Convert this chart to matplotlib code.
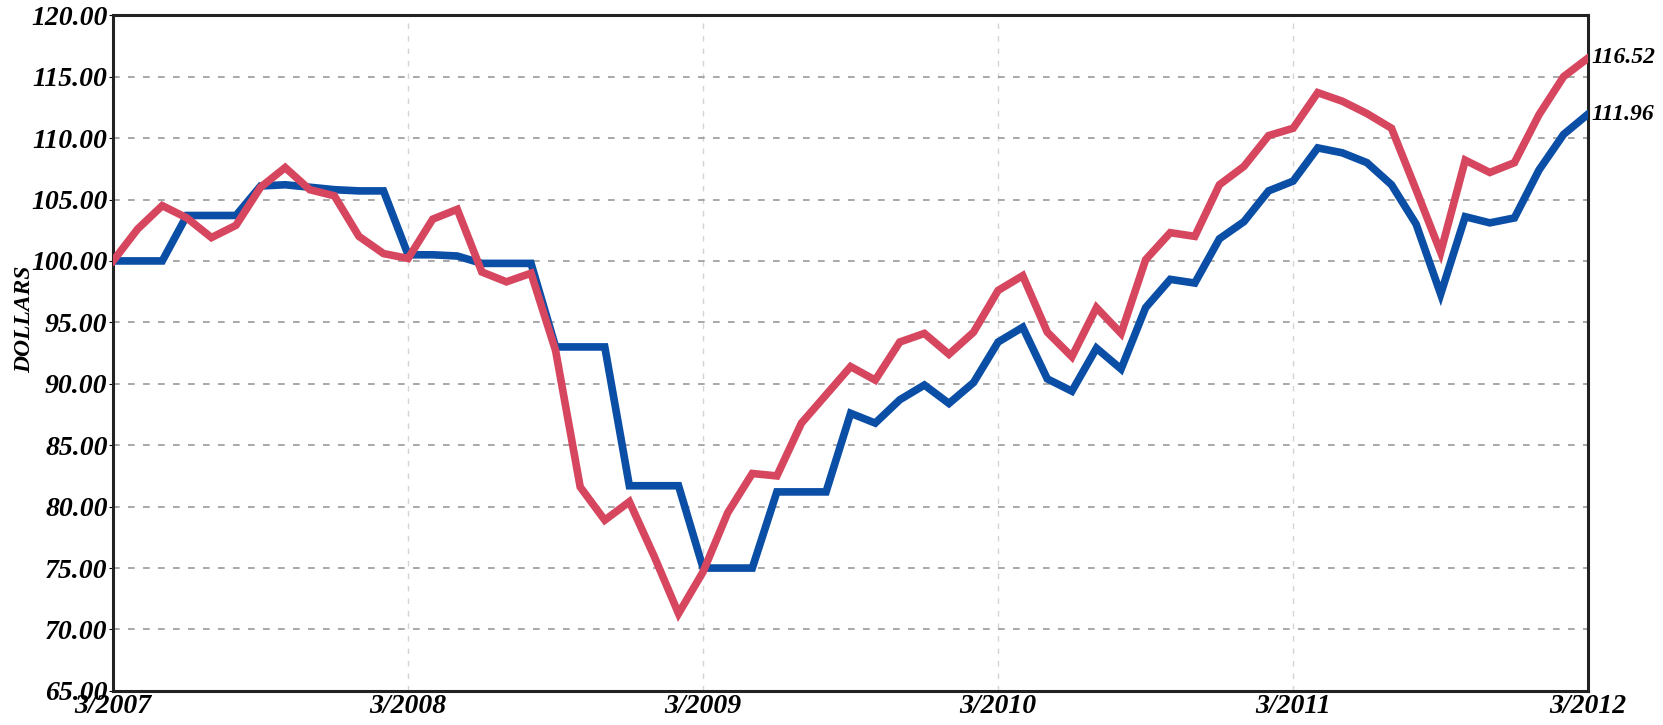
import numpy as np
import matplotlib
matplotlib.use("Agg")
import matplotlib.pyplot as plt

# monthly index, 3/2007 .. 3/2012
months = np.arange(61)
tick_pos = [0, 12, 24, 36, 48, 60]
tick_labels = ["3/2007", "3/2008", "3/2009", "3/2010", "3/2011", "3/2012"]

red_vals = [100.0, 102.6, 104.5, 103.5, 101.9, 102.9, 106.0, 107.6, 105.8, 105.3,
            102.0, 100.6, 100.2, 103.4, 104.2, 99.1, 98.3, 99.0, 92.7, 81.6,
            78.9, 80.4, 76.0, 71.3, 74.7, 79.5, 82.7, 82.5, 86.8, 89.1,
            91.4, 90.3, 93.4, 94.1, 92.4, 94.2, 97.6, 98.8, 94.2, 92.2,
            96.2, 94.1, 100.1, 102.3, 102.0, 106.2, 107.7, 110.2, 110.8, 113.7,
            113.0, 112.0, 110.8, 105.8, 100.7, 108.2, 107.2, 108.0, 111.9, 115.0,
            116.52]

blue_vals = [100.0, 100.0, 100.0, 103.7, 103.7, 103.7, 106.1, 106.2, 106.0, 105.8,
             105.7, 105.7, 100.5, 100.5, 100.4, 99.8, 99.8, 99.8, 93.0, 93.0,
             93.0, 81.7, 81.7, 81.7, 75.0, 75.0, 75.0, 81.2, 81.2, 81.2,
             87.6, 86.8, 88.7, 89.9, 88.4, 90.1, 93.4, 94.6, 90.4, 89.4,
             92.9, 91.2, 96.2, 98.5, 98.2, 101.8, 103.2, 105.7, 106.5, 109.2,
             108.8, 108.0, 106.2, 103.0, 97.3, 103.6, 103.1, 103.5, 107.4, 110.3,
             111.96]

y_ticks = np.arange(65, 121, 5)

RED = "#d6475f"
BLUE = "#0b4ea6"
FONT = dict(family="Liberation Serif", weight="bold", style="italic")

fig = plt.figure(figsize=(16.63, 7.25), dpi=100)
ax = fig.add_axes([0.068, 0.047, 0.887, 0.932])

ax.plot(months, blue_vals, color=BLUE, lw=5.5, solid_joinstyle="miter", zorder=3)
ax.plot(months, red_vals, color=RED, lw=5.5, solid_joinstyle="miter", zorder=4)

ax.set_xlim(0, 60)
ax.set_ylim(65, 120)
ax.set_yticks(y_ticks)
ax.set_yticklabels(["%.2f" % v for v in y_ticks], fontdict=dict(size=20, **FONT))
ax.set_xticks(tick_pos)
ax.set_xticklabels(tick_labels, fontdict=dict(size=20, **FONT))
ax.tick_params(axis="x", length=0, pad=2)
ax.tick_params(axis="y", length=3, pad=1)

ax.grid(axis="y", linestyle=(0, (4, 5)), color="#9a9a9a", lw=1.2)
ax.grid(axis="x", linestyle=(0, (4, 5)), color="#d4d4d4", lw=1.0)

for s in ax.spines.values():
    s.set_linewidth(2.2)
    s.set_color("#222222")

ax.set_ylabel("DOLLARS", fontdict=dict(size=17, **FONT))
ax.yaxis.set_label_coords(-0.053, 0.55)

# end values
for vals in (red_vals, blue_vals):
    ax.annotate("%.2f" % vals[-1], (months[-1], vals[-1]), xytext=(2, 0),
                textcoords="offset points", va="center", ha="left", size=17,
                annotation_clip=False, **FONT)

fig.savefig("out.png", dpi=100)
